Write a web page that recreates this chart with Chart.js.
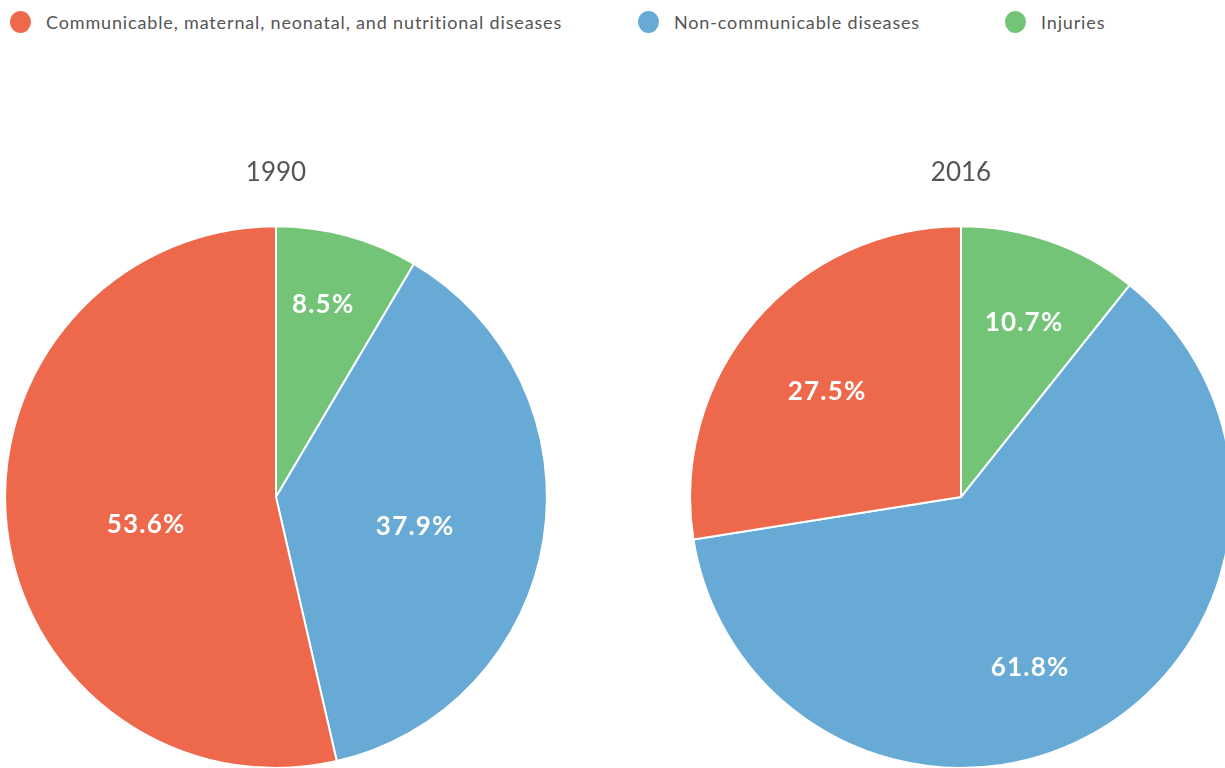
<!DOCTYPE html>
<html>
<head>
<meta charset="utf-8">
<script src="https://cdn.jsdelivr.net/npm/chart.js@4"></script>
<style>
  html, body { margin: 0; padding: 0; background: #fff; overflow: hidden; }
  body { width: 1225px; height: 768px; position: relative; font-family: Lato, "Open Sans", sans-serif; }
  .legend-item { position: absolute; top: 11px; display: flex; align-items: center; font-size: 18px; letter-spacing: 0.85px; color: #555; white-space: nowrap; }
  .legend-item span.dot { width: 21px; height: 22px; border-radius: 50%; margin-right: 15px; display: inline-block; }
  canvas { position: absolute; }
</style>
</head>
<body>
<div id="legend"></div>
<canvas id="chart1990" style="left:0px; top:150px;"></canvas>
<canvas id="chart2016" style="left:685px; top:150px;"></canvas>
<script>
const categories = ['Communicable, maternal, neonatal, and nutritional diseases', 'Non-communicable diseases', 'Injuries'];
const years = ['1990', '2016'];
const values1990 = [53.6, 37.9, 8.5];
const values2016 = [27.5, 61.8, 10.7];
const colors = ['#EE684C', '#67AAD5', '#73C476'];

// legend (shared by both pies)
const legendX = [10, 638, 1005];
const legend = document.getElementById('legend');
categories.forEach((c, i) => {
    const item = document.createElement('div');
    item.className = 'legend-item';
    item.style.left = legendX[i] + 'px';
    item.innerHTML = '<span class="dot" style="background:' + colors[i] + '"></span>' + c;
    legend.appendChild(item);
});

// slices run counter-clockwise from the top, so feed them reversed
const rev = arr => arr.slice().reverse();

const pctLabels = {
    id: 'pctLabels',
    afterDatasetsDraw(chart, args, opts) {
        const ctx = chart.ctx;
        const meta = chart.getDatasetMeta(0);
        const data = chart.data.datasets[0].data;
        ctx.save();
        ctx.fillStyle = '#fff';
        ctx.font = 'bold 26px Lato';
        ctx.letterSpacing = '1.2px';
        ctx.textAlign = 'center';
        ctx.textBaseline = 'middle';
        meta.data.forEach((arc, i) => {
            const p = arc.getProps(['x', 'y', 'startAngle', 'endAngle', 'outerRadius'], true);
            const mid = (p.startAngle + p.endAngle) / 2 + opts.shift[i] * Math.PI / 180;
            const r = p.outerRadius * opts.radii[i];
            ctx.fillText(data[i].toFixed(1) + '%', p.x + Math.cos(mid) * r, p.y + Math.sin(mid) * r);
        });
        ctx.restore();
    }
};

function makePie(id, title, values, radii, shift) {
    const el = document.getElementById(id);
    el.width = 552;
    el.height = 619;
    el.style.width = '552px';
    el.style.height = '619px';
    return new Chart(el.getContext('2d'), {
        type: 'pie',
        data: {
            labels: rev(categories),
            datasets: [{
                data: rev(values),
                backgroundColor: rev(colors),
                borderColor: '#fff',
                borderWidth: 2,
            }],
        },
        options: {
            responsive: false,
            animation: false,
            layout: { padding: 0 },
            plugins: {
                legend: { display: false },
                tooltip: { enabled: false },
                title: {
                    display: true,
                    text: title,
                    color: '#555',
                    font: { family: 'Lato', size: 26, weight: 'normal', lineHeight: 1.2 },
                    padding: { top: 7, bottom: 37 },
                },
                pctLabels: { radii: radii, shift: shift },
            },
        },
        plugins: [pctLabels],
    });
}

// label placement: fraction of radius, and small angle nudge (deg) per slice (injuries, non-comm, comm)
makePie('chart1990', years[0], values1990, [0.73, 0.525, 0.49], [-1.5, 3, -5.4]);
makePie('chart2016', years[1], values2016, [0.685, 0.68, 0.63], [0.6, 8.2, -2.2]);
</script>
</body>
</html>
